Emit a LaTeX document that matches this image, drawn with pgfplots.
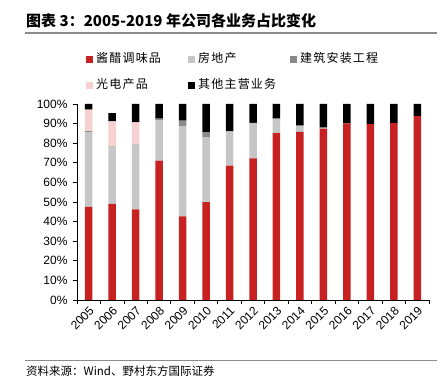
\documentclass[border=0pt]{standalone}
\usepackage{pgfplots}
\pgfplotsset{compat=1.18}
\usepackage{fontspec}
\setmainfont{Liberation Sans}
\newfontfamily\cjk{Noto Sans CJK SC}
\newfontfamily\cjkleg[LetterSpace=10]{Noto Sans CJK SC}
\definecolor{cred}{HTML}{C82121}
\definecolor{clgray}{HTML}{C6C6C6}
\definecolor{cdgray}{HTML}{8A8A8A}
\definecolor{cpink}{HTML}{F7D0D0}
\definecolor{cblack}{HTML}{000000}
\begin{document}
\begin{tikzpicture}[x=1pt,y=1pt]
\useasboundingbox (0,0) rectangle (448,379);
\draw[color=black!45, line width=1.5pt] (25,346) -- (437,346);
\node[anchor=west, inner sep=0] at (26,358) {\cjk\bfseries\fontsize{15}{16}\selectfont 图表 3：2005-2019 年公司各业务占比变化};
\draw[color=black!45, line width=1pt] (25,18) -- (437,18);
\node[anchor=west, inner sep=0] at (26,8) {\cjk\fontsize{11.5}{12}\selectfont 资料来源：Wind、野村东方国际证券};
\begin{axis}[
  at={(77pt,79pt)}, anchor=south west,
  width=352pt, height=196pt, scale only axis,
  xmin=-0.5, xmax=14.5, ymin=0, ymax=100,
  ybar stacked, bar width=7.5pt,
  axis x line*=bottom, axis y line*=left,
  axis line style={black, line width=0.8pt},
  xtick={0,1,2,3,4,5,6,7,8,9,10,11,12,13,14},
  xticklabels={2005,2006,2007,2008,2009,2010,2011,2012,2013,2014,2015,2016,2017,2018,2019},
  major x tick style={draw=none},
  minor xtick={-0.5,0.5,1.5,2.5,3.5,4.5,5.5,6.5,7.5,8.5,9.5,10.5,11.5,12.5,13.5,14.5},
  tick align=outside,
  major tick length=4pt, minor tick length=4pt,
  ytick={0,10,...,100},
  yticklabel={\pgfmathprintnumber{\tick}\%},
  yticklabel style={xshift=-2pt},
  tick style={black, line width=0.8pt},
  xticklabel style={rotate=45, anchor=north east, inner sep=1pt},
  ticklabel style={font=\fontsize{12}{12}\selectfont},
  /pgf/number format/assume math mode=true,
  legend columns=3,
  legend style={at={(0.017,1.27)}, anchor=north west, draw=none, fill=none,
    row sep=14pt,
    nodes={inner xsep=3pt, inner ysep=0pt, text width=89pt, text height=9pt, text depth=3pt, font=\cjkleg\fontsize{12}{12}\selectfont, anchor=west}},
  legend image code/.code={\fill[#1] (0pt,-3.5pt) rectangle (7pt,3.5pt);},
]
\addplot[fill=cred, draw=none] coordinates {(0,47.5) (1,49.1) (2,46.2) (3,71.1) (4,42.7) (5,49.9) (6,68.5) (7,72.3) (8,85.1) (9,85.8) (10,87.4) (11,90.1) (12,89.7) (13,90.3) (14,94.0)};
\addplot[fill=clgray, draw=none] coordinates {(0,38.3) (1,29.4) (2,33.3) (3,20.5) (4,46.0) (5,33.2) (6,17.5) (7,18.1) (8,7.4) (9,3.1) (10,0.6) (11,0) (12,0) (13,0) (14,0)};
\addplot[fill=cdgray, draw=none] coordinates {(0,0.3) (1,0) (2,0) (3,0.9) (4,2.8) (5,2.5) (6,0) (7,0) (8,0) (9,0) (10,0) (11,0) (12,0) (13,0) (14,0)};
\addplot[fill=cpink, draw=none] coordinates {(0,11.0) (1,12.6) (2,11.1) (3,0) (4,0) (5,0) (6,0) (7,0) (8,0) (9,0) (10,0) (11,0) (12,0) (13,0) (14,0)};
\addplot[fill=cblack, draw=none] coordinates {(0,2.9) (1,4.3) (2,9.4) (3,7.5) (4,8.5) (5,14.4) (6,14.0) (7,9.6) (8,7.5) (9,11.1) (10,12.0) (11,9.9) (12,10.3) (13,9.7) (14,6.0)};
\legend{酱醋调味品,房地产,建筑安装工程,光电产品,其他主营业务}
\end{axis}
\end{tikzpicture}
\end{document}
